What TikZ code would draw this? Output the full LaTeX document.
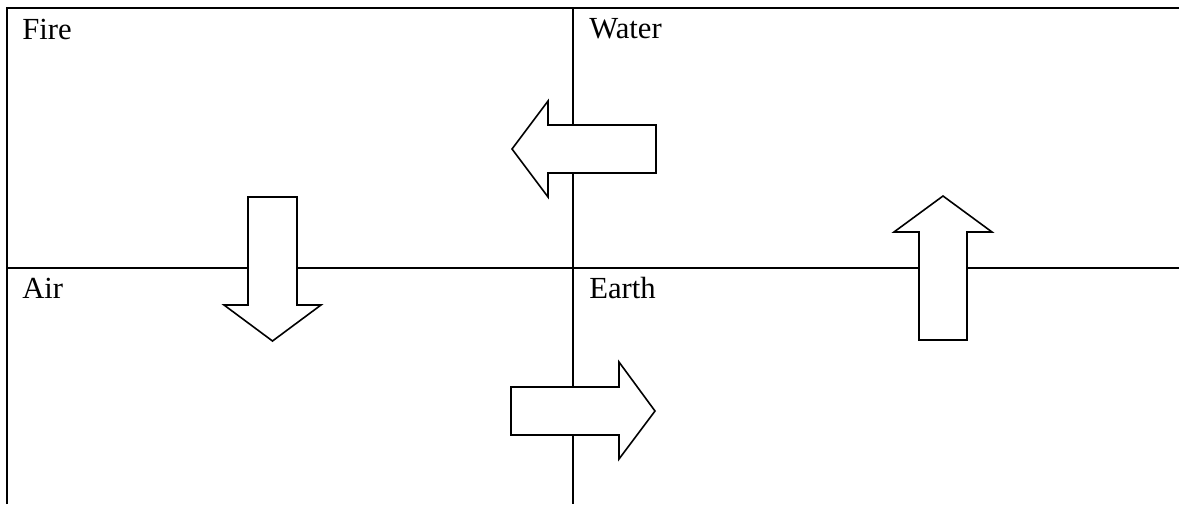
\documentclass[tikz,border=0pt]{standalone}
\usepackage{fontspec}
\setmainfont{Liberation Serif}
\usetikzlibrary{positioning}

\begin{document}
\begin{tikzpicture}[
            x=0.75pt, y=-0.75pt,
            frame/.style={
                    draw=black,
                    line width=2.2pt
                },
            divider/.style={
                    draw=black,
                    line width=1.4pt
                },
            blockArrow/.style={
                    draw=black,
                    fill=white,
                    line width=1.2pt,
                    line join=miter
                },
            quadLabel/.style={
                    anchor=base west,
                    inner sep=0pt,
                    font=\fontsize{23}{28}\selectfont
                }
            ]

            \useasboundingbox (0,0) rectangle (1179,504);

            % dividing lines of the four fields
            \draw[divider] (7,268) -- (1179,268);
            \draw[divider] (573,8) -- (573,504);

            % outer frame (top and left edges)
            \draw[frame] (7,504) -- (7,8) -- (1179,8);

            % labels of the fields
            \node[quadLabel] (fire) at (22,39) {Fire};
            \node[quadLabel] (water) at (589,38) {Water};
            \node[quadLabel] (air) at (22,298) {Air};
            \node[quadLabel] (earth) at (589,298) {Earth};

            % Water -> Fire
            \draw[blockArrow] (656,125) -- (548,125) -- (548,101) -- (512,149)
            -- (548,197) -- (548,173) -- (656,173) -- cycle;

            % Fire -> Air
            \draw[blockArrow] (248,197) -- (297,197) -- (297,305) -- (321,305)
            -- (272.5,341) -- (224,305) -- (248,305) -- cycle;

            % Air -> Earth
            \draw[blockArrow] (511,387) -- (619,387) -- (619,362) -- (655,411)
            -- (619,459) -- (619,435) -- (511,435) -- cycle;

            % Earth -> Water
            \draw[blockArrow] (919,340) -- (919,232) -- (894,232) -- (943,196)
            -- (992,232) -- (967,232) -- (967,340) -- cycle;

        \end{tikzpicture}
\end{document}
